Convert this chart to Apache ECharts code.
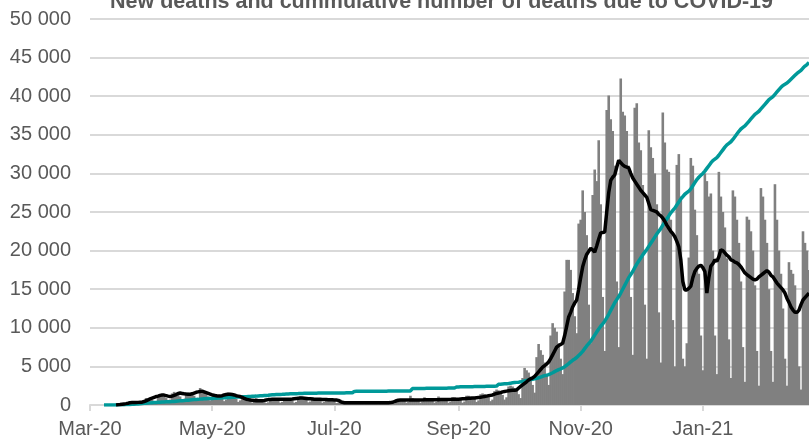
<!DOCTYPE html>
<html>
<head>
<meta charset="utf-8">
<script src="https://cdn.jsdelivr.net/npm/echarts@6/dist/echarts.min.js"></script>
<style>
html,body{margin:0;padding:0;background:#fff;}
#chart{width:809px;height:443px;}
</style>
</head>
<body>
<div id="chart"></div>
<script>
// First day of the daily category axis
const startDate = '2020-03-01';

// Tick labels shown on the x axis and the days they sit on
const tickDates = ['2020-03-01','2020-05-01','2020-07-01','2020-09-01','2020-11-01','2021-01-01'];
const tickLabels = ['Mar-20','May-20','Jul-20','Sep-20','Nov-20','Jan-21'];

// Daily new values (grey bars), one week per row
const newDeaths = [
0,0,0,0,0,0,0,
0,0,0,0,10,20,40,
80,150,200,120,60,90,300,
400,450,350,300,150,200,600,
900,800,700,650,300,450,1100,
1300,1200,1100,900,500,700,1500,
1700,1500,1300,1100,600,800,1600,
1600,1500,1400,1200,700,900,2200,
1900,1700,1400,1100,600,800,1500,
1300,1200,1100,900,500,700,1600,
1400,1200,1000,800,400,600,1200,
900,800,700,600,300,400,900,
700,650,600,500,250,350,800,
800,750,700,600,300,400,900,
900,800,700,600,300,400,1000,
1100,900,800,700,350,450,1000,
900,800,700,600,300,400,900,
800,700,600,500,250,300,700,
450,400,350,300,150,200,450,
400,350,300,250,120,180,450,
400,350,300,250,120,180,500,
450,400,350,300,150,200,600,
800,700,650,550,300,400,1200,
900,800,700,600,300,400,1000,
900,800,700,600,300,400,1100,
900,800,700,600,300,400,1000,
1000,900,800,650,300,450,1200,
1200,1100,1000,800,400,600,1400,
1500,1400,1300,1000,500,700,1800,
2000,1900,1700,1300,700,1000,2400,
2500,2400,2200,1800,1400,900,3500,
4800,4500,4200,3500,2600,1600,6200,
7900,7100,6500,5500,4000,2600,9000,
10600,10000,9500,8000,6000,4000,14700,
18800,18800,17500,14500,11500,9300,23500,
24000,27800,25000,22000,13000,8000,27200,
30500,29000,34300,26000,14000,7000,38200,
40100,37000,35500,31000,16000,7500,42300,
38000,37500,35500,31000,14000,6500,38500,
39100,34000,33000,28500,13000,6000,35600,
33400,32000,30000,26000,12000,5500,37900,
34000,30500,30200,24000,11000,5000,31100,
32500,27000,6000,5000,8000,19100,32000,
31000,25300,22000,17000,9000,4500,30000,
29000,27000,27400,20000,9000,4000,30200,
27000,25000,23000,19000,8500,3500,27800,
27000,24000,21000,16000,7500,3000,24400,
24000,22500,20000,15500,7000,2500,28100,
27000,24000,21000,15000,7000,3000,28600,
24000,20000,17000,12500,6000,2500,18500,
17500,17000,15500,12000,5000,2000,22500,
21000,20000,17500
];

// Black line, daily values
const avgLine = [
null,null,null,null,null,null,null,
null,null,null,null,null,null,0,
30,60,100,140,180,230,300,
330,340,330,340,350,360,450,
550,650,800,900,1000,1100,1150,
1250,1300,1280,1220,1150,1100,1150,
1250,1350,1500,1550,1500,1450,1420,
1400,1400,1450,1550,1650,1700,1750,
1800,1700,1600,1500,1400,1300,1250,
1200,1150,1150,1200,1300,1350,1400,
1400,1350,1300,1200,1150,1100,1000,
850,750,700,650,600,580,560,
550,550,560,600,650,700,720,
740,750,750,760,760,750,750,
750,750,750,780,820,850,880,
900,900,880,850,820,800,780,
760,750,740,730,720,710,700,
690,680,670,660,650,600,450,
350,300,300,300,300,300,300,
300,300,300,300,300,300,300,
300,300,300,300,300,300,300,
300,300,300,310,350,450,550,
620,650,650,650,650,650,650,
650,660,660,660,660,660,670,
670,670,680,680,680,690,690,
700,700,700,710,720,720,730,
740,750,760,780,800,820,840,
860,880,900,920,950,980,1000,
1050,1100,1150,1200,1250,1300,1400,
1500,1550,1600,1700,1750,1800,1850,
1880,1900,1920,1950,2200,2400,2600,
2800,3000,3240,3400,3500,3700,4000,
4300,4600,4900,5100,5300,5570,6000,
6500,7000,7500,7700,7850,8000,9000,
10200,11400,12000,12700,13200,13600,15000,
16500,17900,18800,19500,19900,20300,20100,
19800,20600,21500,22300,22350,22400,25000,
27500,29100,29500,29800,30800,31700,31400,
31100,30900,30800,30700,30000,29400,29000,
28600,28200,27800,27500,27200,26900,26100,
25300,25200,25100,25000,24700,24500,24200,
23800,23300,22900,22500,22200,21800,21200,
20500,18800,16000,14900,14900,15100,15400,
16500,17300,17700,18000,18100,17800,17300,
14500,16500,18000,18300,18800,18600,19200,
20100,20000,19700,19400,19200,18800,18700,
18500,18400,18200,17900,17500,17100,16900,
16700,16500,16300,16200,16300,16600,16800,
17000,17200,17400,17200,16800,16600,16200,
15800,15500,15200,14900,14500,13800,13300,
12700,12300,12000,12000,12300,13000,13600,
13900,14200,14500
];

// Teal line, cumulative number of deaths
const cumulative = [
null,null,null,null,null,null,null,
0,0,2,4,6,10,14,
20,28,36,46,56,68,80,
95,110,125,145,165,185,210,
235,255,275,295,315,335,355,
370,385,400,410,420,430,445,
465,490,515,540,560,580,605,
630,655,680,700,715,730,760,
785,800,815,830,840,850,865,
880,895,910,925,935,945,960,
975,990,1005,1020,1030,1040,1055,
1070,1085,1100,1115,1125,1135,1150,
1170,1190,1210,1230,1245,1260,1300,
1320,1335,1350,1365,1375,1385,1400,
1415,1430,1445,1455,1460,1465,1480,
1500,1505,1510,1515,1518,1520,1525,
1530,1535,1540,1542,1544,1546,1550,
1552,1555,1558,1560,1562,1564,1566,
1568,1570,1572,1574,1576,1580,1760,
1765,1768,1770,1772,1774,1776,1778,
1780,1782,1784,1786,1788,1790,1792,
1794,1796,1798,1800,1802,1804,1806,
1808,1810,1812,1814,1816,1818,1820,
2130,2135,2140,2143,2146,2149,2152,
2155,2158,2161,2164,2167,2170,2173,
2176,2179,2182,2185,2188,2191,2194,
2197,2340,2345,2350,2355,2360,2365,
2370,2375,2380,2385,2390,2395,2400,
2405,2410,2415,2420,2425,2430,2435,
2450,2680,2700,2720,2740,2760,2790,
2830,2870,2900,2930,2960,3000,3060,
3120,3180,3240,3290,3330,3380,3450,
3530,3620,3720,3800,3860,3930,4050,
4180,4320,4460,4580,4680,4800,4960,
5150,5360,5580,5790,5960,6150,6420,
6650,6950,7300,7650,7950,8250,8650,
9050,9450,9850,10200,10500,10850,11300,
11750,12250,12750,13250,13650,14050,14500,
15000,15500,16000,16500,16900,17300,17800,
18250,18650,19050,19450,19800,20150,20550,
20950,21350,21750,22150,22500,22850,23300,
23700,24100,24500,24900,25200,25500,25900,
26300,26700,27000,27300,27500,27700,28000,
28400,28800,29200,29500,29750,30000,30300,
30650,31000,31350,31650,31850,32050,32350,
32700,33050,33400,33700,33900,34100,34400,
34750,35100,35450,35750,35950,36150,36450,
36750,37050,37350,37650,37850,38050,38350,
38650,38950,39250,39550,39750,39950,40250,
40550,40850,41150,41400,41550,41700,41950,
42200,42450,42700,42950,43150,43350,43650,
43900,44100,44350
];

// Build daily date categories
const categories = [];
(function(){
  const d0 = new Date(startDate + 'T00:00:00Z');
  for (let i = 0; i < newDeaths.length; i++) {
    const d = new Date(d0.getTime() + i * 86400000);
    categories.push(d.toISOString().slice(0, 10));
  }
})();

const fmtThousands = v => String(v).replace(/\B(?=(\d{3})+(?!\d))/g, ' ');
const isTick = (idx, val) => tickDates.indexOf(val) >= 0;

const chart = echarts.init(document.getElementById('chart'), null, {renderer: 'canvas'});
chart.setOption({
  animation: false,
  backgroundColor: '#ffffff',
  title: {
    text: 'New deaths and cummulative number of deaths due to COVID-19',
    left: 105,
    top: -14,
    textStyle: {
      fontFamily: 'Liberation Sans, Arial, sans-serif',
      fontSize: 21.5,
      fontWeight: 'bold',
      color: '#595959'
    }
  },
  grid: {left: 90, right: 0, top: 19, bottom: 38, containLabel: false},
  xAxis: {
    type: 'category',
    data: categories,
    boundaryGap: false,
    axisLine: {show: true, lineStyle: {color: '#d9d9d9', width: 2}},
    axisTick: {show: true, interval: isTick, length: 6, lineStyle: {color: '#d9d9d9', width: 2}},
    axisLabel: {
      interval: isTick,
      margin: 14,
      fontFamily: 'Liberation Sans, Arial, sans-serif',
      fontSize: 20,
      color: '#595959',
      formatter: v => tickLabels[tickDates.indexOf(v)] || ''
    },
    splitLine: {show: false}
  },
  yAxis: {
    type: 'value',
    min: 0,
    max: 50000,
    interval: 5000,
    axisLine: {show: false},
    axisTick: {show: false},
    axisLabel: {
      margin: 19,
      fontFamily: 'Liberation Sans, Arial, sans-serif',
      fontSize: 20,
      color: '#595959',
      formatter: v => fmtThousands(v)
    },
    splitLine: {show: true, lineStyle: {color: '#d9d9d9', width: 2}}
  },
  series: [
    {
      type: 'bar',
      data: newDeaths,
      barWidth: 2.6,
      itemStyle: {color: '#808080', borderWidth: 0},
      z: 1
    },
    {
      type: 'line',
      data: cumulative,
      showSymbol: false,
      symbol: 'none',
      lineStyle: {color: '#009999', width: 3.5},
      z: 2
    },
    {
      type: 'line',
      data: avgLine,
      showSymbol: false,
      symbol: 'none',
      lineStyle: {color: '#000000', width: 3.5},
      z: 3
    }
  ]
});
</script>
</body>
</html>
